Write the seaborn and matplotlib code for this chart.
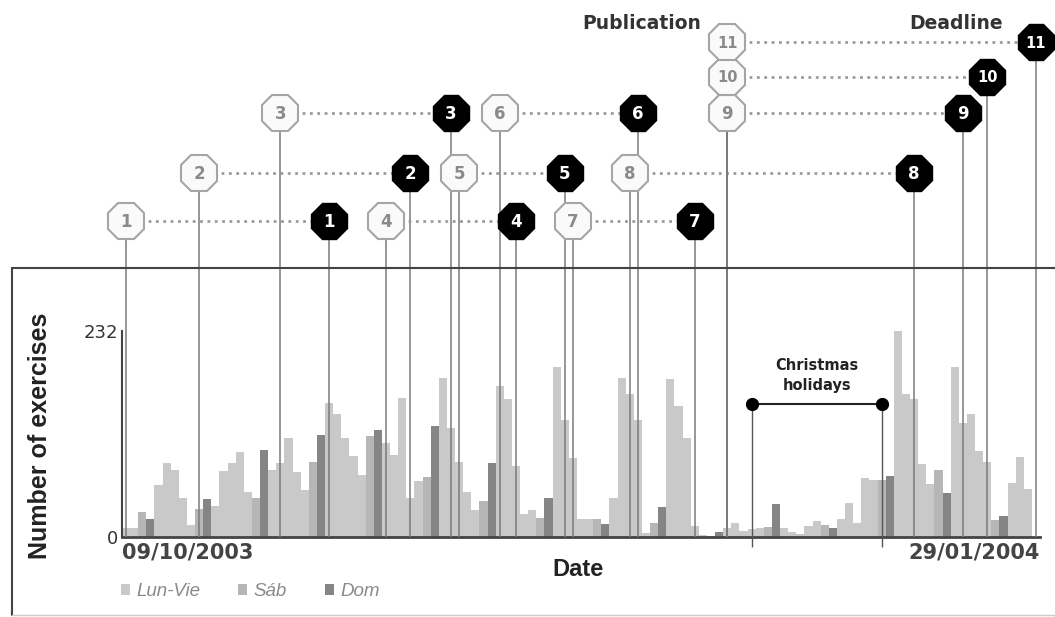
import numpy as np
import pandas as pd
import seaborn as sns
import matplotlib.pyplot as plt
from matplotlib.lines import Line2D

# Theme and fonts
sns.set_theme(style="white")
plt.rcParams['font.family'] = ['DejaVu Sans']

# Data: exercises submitted per day, 09/10/2003 .. 29/01/2004
dates = pd.date_range('2003-10-09', '2004-01-29', freq='D')
exercises = [
    10, 10, 28, 20, 59, 83, 75, 44, 14, 32, 43, 35, 74, 83, 96, 51, 44, 98,
    76, 83, 111, 73, 53, 85, 115, 151, 139,
    111, 91, 70, 114, 120, 106, 92, 157, 44, 63, 68, 125, 179, 123, 85, 51,
    30, 40, 83, 170, 155, 80, 26, 30, 21, 44, 192,
    132, 89, 20, 20, 20, 15, 44, 179, 161, 132, 5, 16, 34, 178, 148, 111, 12,
    2, 1, 6, 10, 16, 7, 9, 10, 11, 37, 10, 6, 3, 12, 18, 13, 10, 20, 38, 16,
    67, 64, 64, 69, 232, 161, 155, 82, 60, 75, 49, 191, 128, 138, 97, 84,
    19, 24, 61, 90, 54, 0,
]
day_types = ['Lun-Vie', 'Sáb', 'Dom']
day_colors = ['#c9c9c9', '#b6b6b6', '#858585']

# Assignments: publication date, deadline date, row in the timeline
publication = ['2003-10-09', '2003-10-18', '2003-10-28', '2003-11-10',
               '2003-11-19', '2003-11-24', '2003-12-03', '2003-12-10',
               '2003-12-22', '2003-12-22', '2003-12-22']
deadline = ['2003-11-03', '2003-11-13', '2003-11-18', '2003-11-26',
            '2003-12-02', '2003-12-11', '2003-12-18', '2004-01-14',
            '2004-01-20', '2004-01-23', '2004-01-29']
timeline_row = [1, 2, 3, 1, 2, 3, 1, 2, 3, 4, 5]
holidays = ['2003-12-25', '2004-01-10']

# Build table
def day_index(d):
    return (pd.to_datetime(d) - dates[0]).days

def day_type(d):
    if d.dayofweek == 5:
        return 'Sáb'
    if d.dayofweek == 6:
        return 'Dom'
    return 'Lun-Vie'

df = pd.DataFrame({
    'day': np.arange(len(dates)),
    'n': exercises,
    'tipo': [day_type(d) for d in dates],
})
pub_x = [day_index(d) for d in publication]
dl_x = [day_index(d) for d in deadline]
hol_x = [day_index(d) for d in holidays]

# Figure layout
W, H = 1055, 617
fig = plt.figure(figsize=(W / 100, H / 100), dpi=100)
ax = fig.add_axes([122 / W, 80 / H, 918 / W, 269 / H])
ax_t = fig.add_axes([122 / W, 349 / H, 918 / W, 268 / H])

# Bars
sns.barplot(data=df, x='day', y='n', hue='tipo', hue_order=day_types,
            palette=dict(zip(day_types, day_colors)), dodge=False, width=1,
            saturation=1, linewidth=0, ax=ax)
ymax = max(exercises)
ax.set_xlim(-0.5, len(dates) - 0.5)
ax.set_ylim(0, ymax * 269 / 206)

# Vertical markers for publications and deadlines
trans = ax.get_xaxis_transform()
ax.vlines(pub_x + dl_x, 0, 1, transform=trans, color='#7a7a7a', lw=1.1, zorder=3)

# Christmas holidays bracket
ax.plot(hol_x, [0.494, 0.494], color='#222222', lw=1.5, transform=trans, zorder=4)
ax.plot(hol_x, [0.494, 0.494], 'o', ms=8.5, color='black', transform=trans, zorder=5)
ax.vlines(hol_x, -0.037, 0.494, transform=trans, color='#555555', lw=1,
          clip_on=False, zorder=4)
ax.text(np.mean(hol_x), 0.6, 'Christmas\nholidays', transform=trans,
        ha='center', va='center', fontsize=10.5, fontweight='bold',
        color='#222222', linespacing=1.45)

# Axes styling
for side in ['top', 'right']:
    ax.spines[side].set_visible(False)
ax.spines['left'].set_bounds(0, ymax)
ax.spines['left'].set_color('#444444')
ax.spines['left'].set_linewidth(1.5)
ax.spines['bottom'].set_color('#444444')
ax.spines['bottom'].set_linewidth(2)

ax.set_yticks([0, ymax])
ax.set_yticklabels(['0', str(ymax)], fontsize=13, color='#333333')
ax.set_xticks([-0.5, len(dates) - 0.5])
ax.set_xticklabels([dates[0].strftime('%d/%m/%Y'), dates[-1].strftime('%d/%m/%Y')],
                   fontsize=15, fontweight='bold', color='#444444')
xl = ax.get_xticklabels()
xl[0].set_ha('left')
xl[1].set_ha('right')
ax.tick_params(axis='both', length=0)
ax.tick_params(axis='y', pad=3)
ax.tick_params(axis='x', pad=4)

ax.set_ylabel('Number of exercises', fontsize=18, fontweight='bold',
              family='Liberation Sans', color='#222222')
ax.yaxis.set_label_coords(-0.076, 0.375)
ax.set_xlabel('Date', fontsize=17, fontweight='bold', family='Liberation Sans',
              color='#222222')
ax.xaxis.set_label_coords(0.497, -0.078)

# Legend
sns.move_legend(ax, 'upper left', bbox_to_anchor=(-0.02, -0.108), ncol=3,
                title=None, frameon=False, fontsize=13.5, handlelength=0.5,
                handleheight=0.5, handletextpad=0.35, columnspacing=2.0)
for t in ax.get_legend().get_texts():
    t.set_fontstyle('italic')
    t.set_color('#8a8a8a')
    t.set_family('Liberation Sans')

# Timeline of assignments
row_y = {1: 221, 2: 173, 3: 113, 4: 77, 5: 42}
ax_t.set_xlim(-0.5, len(dates) - 0.5)
ax_t.set_ylim(268, 0)
ax_t.axis('off')
for k, (p, d, r) in enumerate(zip(pub_x, dl_x, timeline_row)):
    y = row_y[r]
    label = str(k + 1)
    fs = 12 if len(label) == 1 else 10.5
    ax_t.plot([p, d], [y, y], ls=':', color='#9a9a9a', lw=2, zorder=1)
    ax_t.vlines([p, d], y, 268, color='#7a7a7a', lw=1.1, zorder=1)
    ax_t.plot(p, y, marker='8', ms=28.5, mfc='#fafafa', mec='#a5a5a5', mew=1.5,
              zorder=3, clip_on=False)
    ax_t.text(p, y + 1, label, ha='center', va='center', fontsize=fs,
              fontweight='bold', color='#8a8a8a', zorder=4)
    ax_t.plot(d, y, marker='8', ms=28, mfc='black', mec='black', mew=1,
              zorder=3, clip_on=False)
    ax_t.text(d, y + 1, label, ha='center', va='center', fontsize=fs,
              fontweight='bold', color='white', zorder=4)

ax_t.annotate('Publication', xy=(pub_x[-1], row_y[5]), xytext=(-19, 13),
              textcoords='offset points', ha='right', va='center',
              fontsize=13.5, fontweight='bold', color='#333333')
ax_t.annotate('Deadline', xy=(dl_x[-1], row_y[5]), xytext=(-24, 13),
              textcoords='offset points', ha='right', va='center',
              fontsize=13.5, fontweight='bold', color='#333333')

# Outer frame of the chart panel
fig.add_artist(Line2D([12 / W, 1], [349 / H, 349 / H], transform=fig.transFigure,
                      color='#444444', lw=1.5))
fig.add_artist(Line2D([12 / W, 12 / W], [2 / H, 349 / H], transform=fig.transFigure,
                      color='#444444', lw=1.5))
fig.add_artist(Line2D([12 / W, 1], [2 / H, 2 / H], transform=fig.transFigure,
                      color='#cccccc', lw=1))

fig.savefig('out.png', dpi=100)
